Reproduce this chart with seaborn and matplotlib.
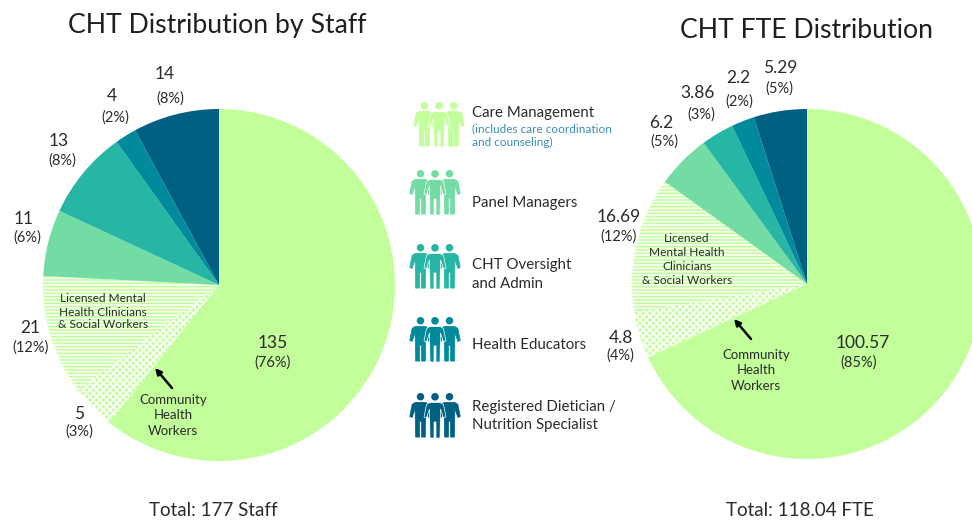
import matplotlib
matplotlib.use("Agg")
import matplotlib.pyplot as plt
import seaborn as sns
from matplotlib.patches import Circle, Polygon

W, H = 972, 521

# roles in the order the wedges run, clockwise from 12 o'clock
wedge_names = ["Care Management", "Community Health Workers", "Licensed Clinicians",
               "Panel Managers", "CHT Oversight", "Health Educators", "Dietician"]

# wedge sizes are read off the drawn angles, the printed labels don't add up to them
staff_drawn = [107.5, 7.2, 19.5, 10.8, 14.5, 3.5, 14.0]
fte_drawn = [80.3, 5.1, 14.75, 5.9, 3.57, 2.49, 5.8]

staff_labels = ["135", "5", "21", "11", "13", "4", "14"]
staff_pcts = ["(76%)", "(3%)", "(12%)", "(6%)", "(8%)", "(2%)", "(8%)"]
fte_labels = ["100.57", "4.8", "16.69", "6.2", "3.86", "2.2", "5.29"]
fte_pcts = ["(85%)", "(4%)", "(12%)", "(5%)", "(3%)", "(2%)", "(5%)"]

GREEN = "#c2ff9b"
PANEL = "#72dca4"
OVERSIGHT = "#27b5a5"
EDUCATOR = "#008a9c"
DIETICIAN = "#006082"
INK = "#2b2b2b"

sns.set_theme(style="white")
plt.rcParams["font.family"] = ["Lato", "DejaVu Sans"]
plt.rcParams["hatch.linewidth"] = 1.2
palette = sns.color_palette([GREEN, GREEN, GREEN, PANEL, OVERSIGHT, EDUCATOR, DIETICIAN])


def draw_pie(fig, values, cx, cy, r):
    ax = fig.add_axes([(cx - r) / W, 1 - (cy + r) / H, 2 * r / W, 2 * r / H])
    wedges, _ = ax.pie(values, colors=palette, startangle=90, counterclock=False,
                       wedgeprops={"linewidth": 0})
    ax.set_xlim(-1, 1)
    ax.set_ylim(-1, 1)
    wedges[1].set_edgecolor("white")
    wedges[1].set_hatch("xxxxx")
    wedges[2].set_edgecolor("white")
    wedges[2].set_hatch("-----")
    return ax


def person(ax, cx, top, h, color, zorder, edge):
    s = h / 45
    outline = [(-5, 9.5), (5, 9.5), (8.5, 11.5), (11, 24), (8.5, 25), (5.5, 16), (5, 45), (1, 45), (1, 29),
               (-1, 29), (-1, 45), (-5, 45), (-5.5, 16), (-8.5, 25), (-11, 24), (-8.5, 11.5)]
    pts = [(cx + x * s, top + y * s) for x, y in outline]
    ax.add_patch(Polygon(pts, closed=True, fc=color, ec=edge, lw=0.5, zorder=zorder))
    ax.add_patch(Circle((cx, top + 3.8 * s), 3.8 * s, fc=color, ec="none", zorder=zorder))


def people(ax, cx, top, bottom, color):
    h = bottom - top
    person(ax, cx - 14.5, top, h * 0.98, color, 3, color)
    person(ax, cx + 14.5, top, h * 0.98, color, 3, color)
    person(ax, cx, top, h, color, 4, "white")


def label(ax, x, y, s, size=10.0, color=INK, **kw):
    ax.text(x, y, s, fontsize=size, color=color, ha="center", va="center", **kw)


fig = plt.figure(figsize=(W / 100, H / 100), dpi=100)
draw_pie(fig, staff_drawn, 219, 285, 176)
draw_pie(fig, fte_drawn, 807, 284, 175)

# overlay in pixel coordinates for all the text and the icons
ov = fig.add_axes([0, 0, 1, 1], facecolor="none")
ov.set_xlim(0, W)
ov.set_ylim(H, 0)
ov.axis("off")

label(ov, 217, 25, "CHT Distribution by Staff", size=19.2, color="#1f1f1f")
label(ov, 806, 30, "CHT FTE Distribution", size=19.2, color="#1f1f1f")
label(ov, 213, 511, "Total: 177 Staff", size=13.5)
label(ov, 800, 511, "Total: 118.04 FTE", size=13.5)

staff_num_pos = [(273, 343), (79, 414), (30, 328), (24, 219), (59, 141), (112, 96), (165, 74)]
staff_pct_pos = [(273, 363), (79, 432), (31, 348), (27, 238), (62, 161), (115, 118), (170, 99)]
fte_num_pos = [(863, 343), (621, 338), (619, 217), (661, 123), (697, 93), (738, 78), (780, 68)]
fte_pct_pos = [(859, 363), (620, 356), (619, 237), (664, 142), (701, 115), (739, 102), (779, 89)]

for i in range(len(wedge_names)):
    label(ov, *staff_num_pos[i], staff_labels[i], size=12.5)
    label(ov, *staff_pct_pos[i], staff_pcts[i], size=10.5)
    label(ov, *fte_num_pos[i], fte_labels[i], size=12.5)
    label(ov, *fte_pct_pos[i], fte_pcts[i], size=10.5)

for y, s in zip([298, 312, 325], ["Licensed Mental", "Health Clinicians", "& Social Workers"]):
    label(ov, 103, y, s, size=8.6)
for y, s in zip([238, 252, 266, 280], ["Licensed", "Mental Health", "Clinicians", "& Social Workers"]):
    label(ov, 687, y, s, size=8.6)
for y, s in zip([400, 415, 431], ["Community", "Health", "Workers"]):
    label(ov, 173, y, s, size=9.5)
for y, s in zip([355, 370, 386], ["Community", "Health", "Workers"]):
    label(ov, 756, y, s, size=9.5)

arrow = dict(arrowstyle="-|>", color="black", lw=1.8, mutation_scale=9, shrinkA=0, shrinkB=0)
ov.annotate("", xy=(155, 368), xytext=(172, 388), arrowprops=arrow)
ov.annotate("", xy=(734, 319), xytext=(751, 339), arrowprops=arrow)

# legend
people(ov, 439, 102, 147, GREEN)
people(ov, 435, 170, 215, PANEL)
people(ov, 435, 244, 289, OVERSIGHT)
people(ov, 435, 317, 362, EDUCATOR)
people(ov, 435, 393, 438, DIETICIAN)

legend_y = [113, 203, 265, 284, 345, 407, 425]
legend_text = ["Care Management", "Panel Managers", "CHT Oversight", "and Admin",
               "Health Educators", "Registered Dietician /", "Nutrition Specialist"]
for y, s in zip(legend_y, legend_text):
    ov.text(472, y, s, fontsize=10.8, color=INK, ha="left", va="center")
ov.text(472, 129, "(includes care coordination", fontsize=8.5, color="#3a8fb0", ha="left", va="center")
ov.text(472, 142, "and counseling)", fontsize=8.5, color="#3a8fb0", ha="left", va="center")

fig.savefig("out.png", dpi=100)
